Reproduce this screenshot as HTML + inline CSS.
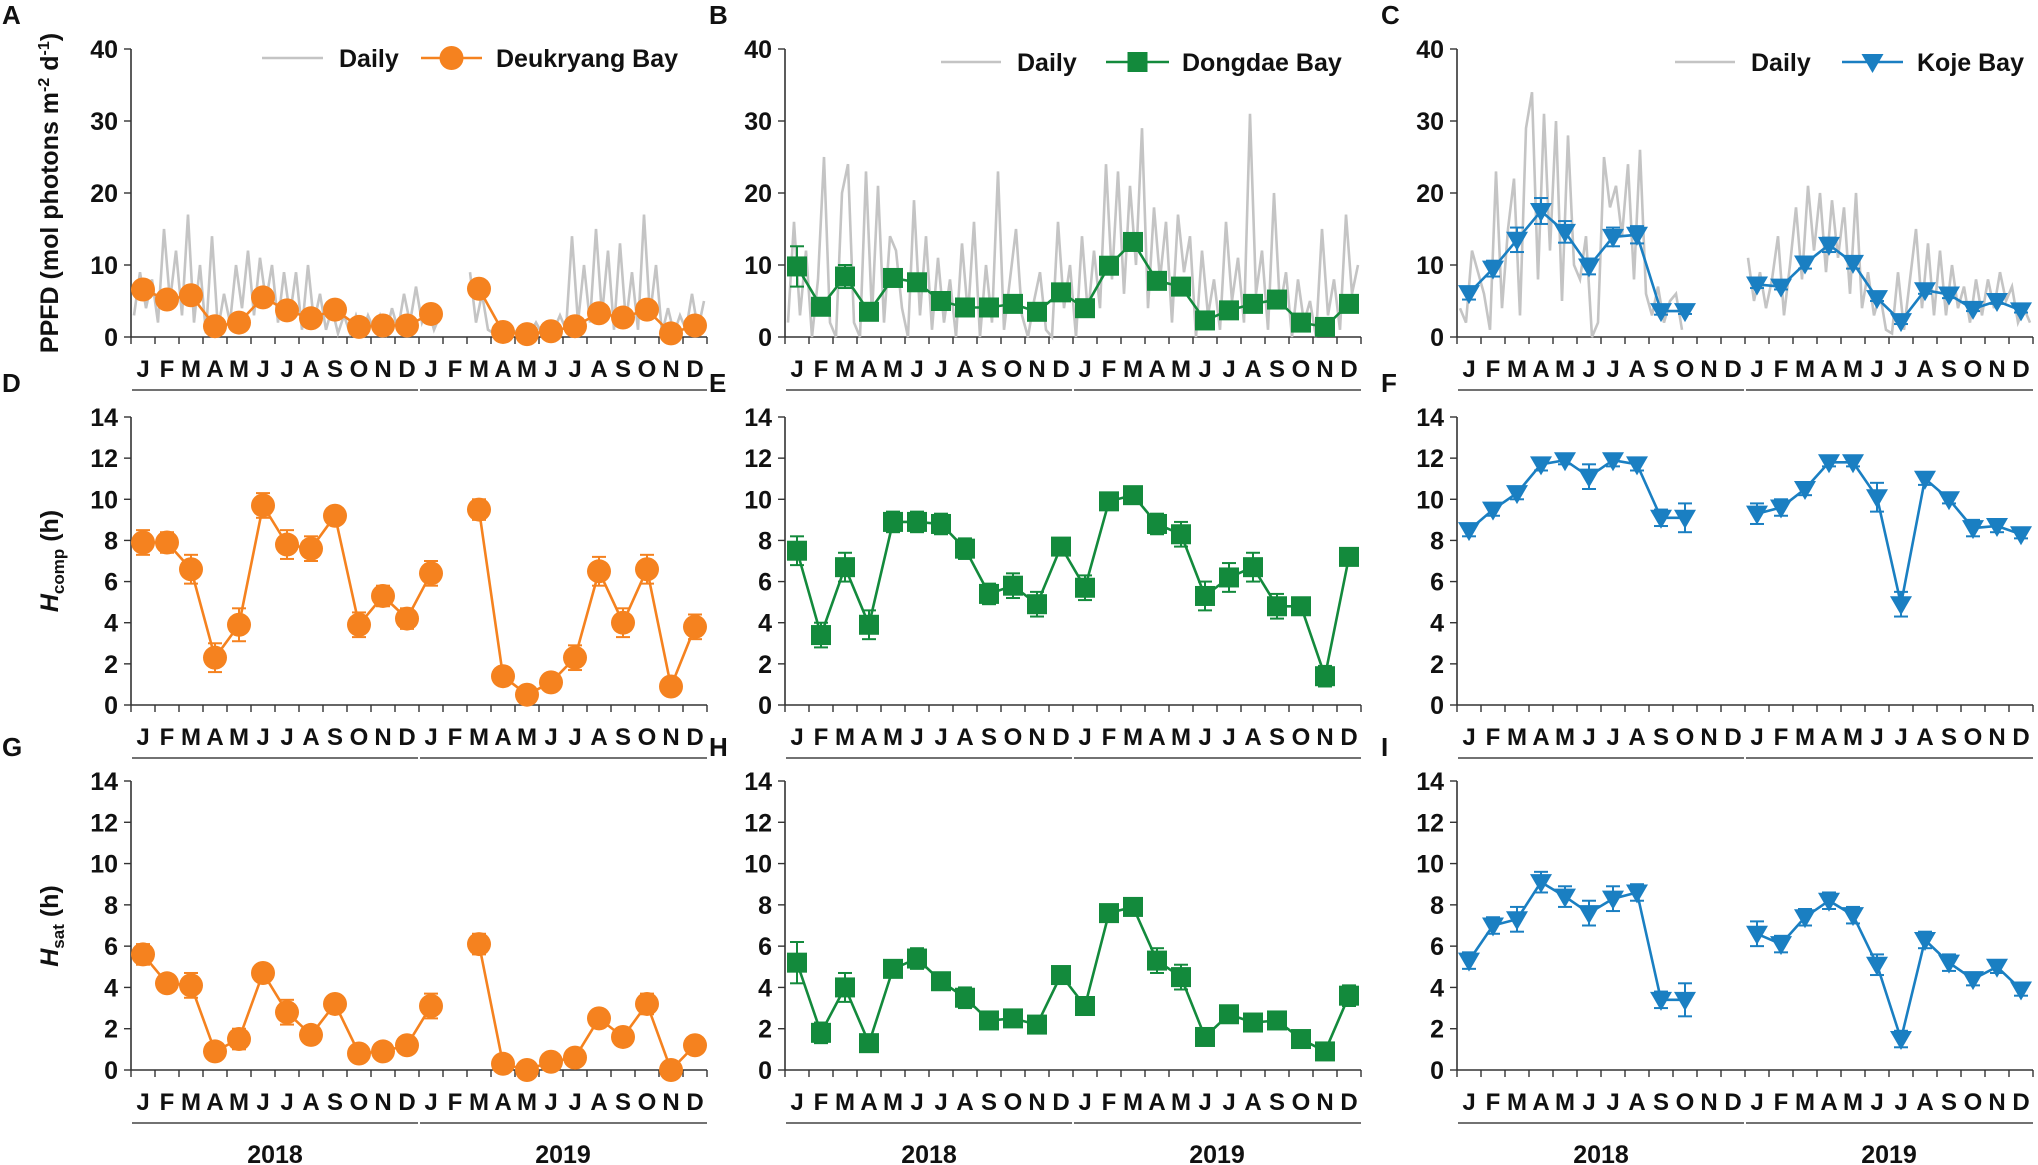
<!DOCTYPE html>
<html><head><meta charset="utf-8">
<style>
html,body{margin:0;padding:0;background:#fff;}
svg{display:block;font-family:"Liberation Sans",Arial,sans-serif;}
text{font-weight:bold;fill:#111;}
</style></head>
<body>
<svg id="fig" width="2038" height="1165" viewBox="0 0 2038 1165" xmlns="http://www.w3.org/2000/svg"></svg>
<script>
// ---------- data ----------
const months = ["J","F","M","A","M","J","J","A","S","O","N","D","J","F","M","A","M","J","J","A","S","O","N","D"];
const years = ["2018","2019"];
const ppfdTicks = [0,10,20,30,40];
const hourTicks = [0,2,4,6,8,10,12,14];

// monthly PPFD
const ppfdDeukryang = [6.6,5.2,5.8,1.5,2.0,5.5,3.7,2.6,3.8,1.4,1.6,1.6, 3.2,null,6.7,0.7,0.4,0.8,1.5,3.3,2.7,3.8,0.5,1.6];
const ppfdDongdae = [9.8,4.2,8.4,3.5,8.2,7.6,5.0,4.1,4.1,4.6,3.5,6.2, 4.0,9.9,13.2,7.8,7.0,2.3,3.7,4.6,5.2,2.0,1.4,4.6];
const ppfdKoje = [6.1,9.5,13.5,17.5,14.6,9.8,13.9,14.2,3.6,3.6,null,null, 7.3,7.0,10.2,12.8,10.3,5.4,2.2,6.5,5.9,3.9,5.0,3.7];
const ppfdErrDongdae = [2.8,1.2,1.6,0.8,1.0,0.8,0.8,0.6,0.6,0.6,0.5,0.8, 0.6,0.8,1.0,0.8,0.7,0.5,0.5,0.6,0.6,0.4,0.3,0.6];
const ppfdErrKoje = [0.9,1.1,1.7,1.8,1.5,1.1,1.3,1.2,0.5,0.4,null,null, 0.5,0.4,0.7,1.0,0.8,0.4,0.4,0.5,0.5,0.3,0.4,0.3];

// Hcomp
const hcompDeukryang = [7.9,7.9,6.6,2.3,3.9,9.7,7.8,7.6,9.2,3.9,5.3,4.2, 6.4,null,9.5,1.4,0.5,1.1,2.3,6.5,4.0,6.6,0.9,3.8];
const hcompDongdae = [7.5,3.4,6.7,3.9,8.9,8.9,8.8,7.6,5.4,5.8,4.9,7.7, 5.7,9.9,10.2,8.8,8.3,5.3,6.2,6.7,4.8,4.8,1.4,7.2];
const hcompKoje = [8.5,9.5,10.3,11.7,11.9,11.1,11.9,11.7,9.1,9.1,null,null, 9.3,9.6,10.5,11.8,11.8,10.1,4.9,11.0,10.0,8.6,8.7,8.3];
const hcompErrDeukryang = [0.6,0.5,0.7,0.7,0.8,0.6,0.7,0.6,0.3,0.6,0.5,0.5, 0.6,null,0.5,0.4,0.3,0.4,0.6,0.7,0.7,0.7,0.4,0.6];
const hcompErrDongdae = [0.7,0.6,0.7,0.7,0.5,0.5,0.5,0.5,0.5,0.6,0.6,0.4, 0.6,0.3,0.3,0.5,0.6,0.7,0.7,0.7,0.6,0.4,0.5,0.3];
const hcompErrKoje = [0.3,0.3,0.3,0.3,0.2,0.6,0.3,0.3,0.4,0.7,null,null, 0.5,0.4,0.3,0.2,0.2,0.7,0.6,0.3,0.2,0.4,0.3,0.2];

// Hsat
const hsatDeukryang = [5.6,4.2,4.1,0.9,1.5,4.7,2.8,1.7,3.2,0.8,0.9,1.2, 3.1,null,6.1,0.3,0.0,0.4,0.6,2.5,1.6,3.2,0.0,1.2];
const hsatDongdae = [5.2,1.8,4.0,1.3,4.9,5.4,4.3,3.5,2.4,2.5,2.2,4.6, 3.1,7.6,7.9,5.3,4.5,1.6,2.7,2.3,2.4,1.5,0.9,3.6];
const hsatKoje = [5.3,7.0,7.3,9.1,8.4,7.6,8.3,8.6,3.4,3.4,null,null, 6.6,6.1,7.4,8.2,7.5,5.1,1.5,6.3,5.2,4.4,5.0,3.9];
const hsatErrDeukryang = [0.5,0.4,0.6,0.2,0.5,0.4,0.6,0.3,0.4,0.2,0.2,0.3, 0.6,null,0.5,0.2,0.1,0.2,0.2,0.4,0.4,0.5,0.1,0.2];
const hsatErrDongdae = [1.0,0.5,0.7,0.4,0.4,0.5,0.4,0.5,0.3,0.3,0.4,0.3, 0.4,0.2,0.2,0.6,0.6,0.3,0.4,0.3,0.3,0.3,0.2,0.5];
const hsatErrKoje = [0.4,0.4,0.6,0.5,0.5,0.6,0.6,0.4,0.4,0.8,null,null, 0.6,0.4,0.4,0.4,0.4,0.5,0.4,0.4,0.4,0.3,0.3,0.3];

// daily PPFD (4 samples per month)
const dailyDeukryang = [3,9,4,8, 2,15,5,12, 3,17,2,10, 0.5,14,1,6, 2,10,4,12, 3,11,5,10, 2,9,3,9, 1,10,2,6, 1,4,0.5,3, 0.5,3,0.5,3, 1,3,0.5,4, 1,6,2,7,
  2,4,1,3, null,null,null,null, 9,2,6,1, 0.5,2,0.5,1, 0.5,1,0.5,2, 0.5,2,1,3, 1,14,2,10, 2,15,3,12, 1,13,2,9, 1,17,3,10, 0.5,4,0.5,3, 1,6,1,5];
const dailyDongdae = [2,16,3,12, 0,8,25,2, 0,20,24,2, 0,23,3,21, 2,14,12,4, 0,19,3,14, 1,11,2,8, 0,13,3,16, 0,10,2,23, 1,8,15,3, 0,5,9,1, 0,16,4,10,
  0,14,3,12, 4,24,8,23, 6,21,10,29, 4,18,8,16, 2,17,9,14, 0,12,3,8, 1,16,5,11, 2,31,6,12, 1,20,4,9, 0,8,2,5, 0,15,3,8, 1,17,6,10];
const dailyKoje = [4,2,12,9, 6,1,23,4, 15,22,3,29, 34,8,31,12, 30,5,28,10, 8,14,0,2, 25,18,21,14, 24,8,26,6, 3,7,2,5, 6,1,null,null, null,null,null,null, null,null,null,null,
  11,5,9,4, 8,14,3,10, 18,8,21,12, 20,9,19,11, 18,6,20,4, 9,3,6,1, 0.5,9,1,8, 15,4,13,3, 12,3,10,4, 7,2,8,3, 8,4,9,5, 7,2,4,2];

// ---------- layout ----------
const NS = "http://www.w3.org/2000/svg";
const svg = document.getElementById("fig");
const colX0 = [131, 785, 1457];
const plotW = 576;
const rowTop = [49, 417, 781];
const rowBot = [337, 705, 1070];
const rowMax = [40, 14, 14];
const colors = ["#F5821F", "#138A3C", "#1A7FC2"];
const marker = ["circle", "square", "triangle"];
const bayNames = ["Deukryang Bay", "Dongdae Bay", "Koje Bay"];
const letters = [["A","B","C"],["D","E","F"],["G","H","I"]];

function el(tag, attrs, parent) {
  const e = document.createElementNS(NS, tag);
  for (const k in attrs) e.setAttribute(k, attrs[k]);
  (parent || svg).appendChild(e);
  return e;
}
function xScale(col, i) { return colX0[col] + (i + 0.5) * plotW / 24; }
function xDaily(col, j) { return colX0[col] + (j + 0.5) * plotW / 96; }
function yScale(row, v) { return rowBot[row] - v / rowMax[row] * (rowBot[row] - rowTop[row]); }

function drawMarker(g, type, x, y, color, s) {
  let m;
  if (type === "circle") m = el("circle", {cx: x, cy: y, r: s, fill: color}, g);
  else if (type === "square") m = el("rect", {x: x - s, y: y - s, width: 2 * s, height: 2 * s, fill: color}, g);
  else m = el("polygon", {points: `${x - s - 1},${y - s + 2} ${x + s + 1},${y - s + 2} ${x},${y + s + 1}`, fill: color}, g);
  
  
}

function drawAxes(row, col) {
  const g = el("g", {});
  
  
  const x0 = colX0[col], x1 = x0 + plotW, yb = rowBot[row], yt = rowTop[row];
  el("line", {x1: x0, y1: yt, x2: x0, y2: yb, stroke: "#333", "stroke-width": 1.6}, g);
  el("line", {x1: x0, y1: yb, x2: x1, y2: yb, stroke: "#333", "stroke-width": 1.6}, g);
  const ticks = row === 0 ? ppfdTicks : hourTicks;
  ticks.forEach(t => {
    const y = yScale(row, t);
    el("line", {x1: x0 - 7, y1: y, x2: x0, y2: y, stroke: "#333", "stroke-width": 1.4}, g);
    const tx = el("text", {x: x0 - 13, y: y + 9, "text-anchor": "end", "font-size": 25, "font-family": "'Liberation Sans Narrow','Liberation Sans',sans-serif"}, g);
    tx.textContent = t;
    
    
  });
  for (let i = 0; i <= 24; i++) {
    const x = x0 + i * plotW / 24;
    el("line", {x1: x, y1: yb, x2: x, y2: yb + 7, stroke: "#333", "stroke-width": 1.4}, g);
  }
  const ly = yb + 40;
  months.forEach((m, i) => {
    const tx = el("text", {x: xScale(col, i), y: ly, "text-anchor": "middle", "font-size": 24}, g);
    tx.textContent = m;
    
    
  });
  const uy = yb + 53;
  el("line", {x1: x0 + 1, y1: uy, x2: x0 + plotW / 2 - 1, y2: uy, stroke: "#444", "stroke-width": 1.6}, g);
  el("line", {x1: x0 + plotW / 2 + 1, y1: uy, x2: x1, y2: uy, stroke: "#444", "stroke-width": 1.6}, g);
  if (row === 2) {
    years.forEach((yr, k) => {
      const tx = el("text", {x: x0 + plotW / 4 + k * plotW / 2, y: uy + 40, "text-anchor": "middle", "font-size": 25}, g);
      tx.textContent = yr;
      
      
    });
  }
  const lt = el("text", {x: col === 0 ? 2 : x0 - 76, y: yt - 25, "font-size": 26}, g);
  lt.textContent = letters[row][col];
  
  
}

function drawDaily(col, arr) {
  let d = "", pen = false;
  arr.forEach((v, j) => {
    if (v === null) { pen = false; return; }
    d += (pen ? "L" : "M") + xDaily(col, j).toFixed(1) + "," + yScale(0, v).toFixed(1);
    pen = true;
  });
  const p = el("path", {d: d, fill: "none", stroke: "#C4C4C4", "stroke-width": 2.6});
  
  
}

function drawSeries(row, col, vals, errs) {
  const g = el("g", {});
  
  
  const c = colors[col];
  let d = "", pen = false;
  vals.forEach((v, i) => {
    if (v === null) { pen = false; return; }
    d += (pen ? "L" : "M") + xScale(col, i).toFixed(1) + "," + yScale(row, v).toFixed(1);
    pen = true;
  });
  el("path", {d: d, fill: "none", stroke: c, "stroke-width": 2.6}, g);
  vals.forEach((v, i) => {
    if (v === null) return;
    const x = xScale(col, i);
    const e = errs ? errs[i] : null;
    if (e) {
      const ya = yScale(row, v + e), yb = yScale(row, Math.max(0, v - e));
      el("line", {x1: x, y1: ya, x2: x, y2: yb, stroke: c, "stroke-width": 2}, g);
      el("line", {x1: x - 7, y1: ya, x2: x + 7, y2: ya, stroke: c, "stroke-width": 2}, g);
      el("line", {x1: x - 7, y1: yb, x2: x + 7, y2: yb, stroke: c, "stroke-width": 2}, g);
    }
    drawMarker(g, marker[col], x, yScale(row, v), c, col === 0 ? 12 : 10);
  });
}

// legends
const legendPos = [
  {g0: 262, g1: 323, daily: 339, l0: 421, l1: 482, name: 496, y: 58},
  {g0: 941, g1: 1001, daily: 1017, l0: 1106, l1: 1169, name: 1182, y: 62},
  {g0: 1675, g1: 1735, daily: 1751, l0: 1842, l1: 1903, name: 1917, y: 62}
];
function drawLegend(col) {
  const L = legendPos[col];
  const g = el("g", {});
  
  
  el("line", {x1: L.g0, y1: L.y, x2: L.g1, y2: L.y, stroke: "#C4C4C4", "stroke-width": 2.5}, g);
  const t1 = el("text", {x: L.daily, y: L.y + 9, "font-size": 25}, g);
  t1.textContent = "Daily";
  
  
  el("line", {x1: L.l0, y1: L.y, x2: L.l1, y2: L.y, stroke: colors[col], "stroke-width": 2.6}, g);
  drawMarker(g, marker[col], (L.l0 + L.l1) / 2, L.y, colors[col], col === 0 ? 12 : 10);
  const t2 = el("text", {x: L.name, y: L.y + 9, "font-size": 25}, g);
  t2.textContent = bayNames[col];
  
  
}

for (let r = 0; r < 3; r++) for (let c = 0; c < 3; c++) drawAxes(r, c);
drawDaily(0, dailyDeukryang);
drawDaily(1, dailyDongdae);
drawDaily(2, dailyKoje);
drawSeries(0, 0, ppfdDeukryang, null);
drawSeries(0, 1, ppfdDongdae, ppfdErrDongdae);
drawSeries(0, 2, ppfdKoje, ppfdErrKoje);
drawSeries(1, 0, hcompDeukryang, hcompErrDeukryang);
drawSeries(1, 1, hcompDongdae, hcompErrDongdae);
drawSeries(1, 2, hcompKoje, hcompErrKoje);
drawSeries(2, 0, hsatDeukryang, hsatErrDeukryang);
drawSeries(2, 1, hsatDongdae, hsatErrDongdae);
drawSeries(2, 2, hsatKoje, hsatErrKoje);
drawLegend(0); drawLegend(1); drawLegend(2);

// y-axis titles
function yTitle(cx, cy, html, name) {
  const t = el("text", {x: 0, y: 0, "text-anchor": "middle", "font-size": 25, transform: `translate(${cx},${cy}) rotate(-90)`});
  t.innerHTML = html;
  
  
}
yTitle(58, 193, 'PPFD (mol photons m<tspan dy="-9" font-size="16">-2</tspan><tspan dy="9"> d</tspan><tspan dy="-9" font-size="16">-1</tspan><tspan dy="9">)</tspan>', 'y-axis-title-ppfd');
yTitle(58, 561, '<tspan font-style="italic">H</tspan><tspan dy="6" font-size="17">comp</tspan><tspan dy="-6"> (h)</tspan>', 'y-axis-title-hcomp');
yTitle(58, 926, '<tspan font-style="italic">H</tspan><tspan dy="6" font-size="17">sat</tspan><tspan dy="-6"> (h)</tspan>', 'y-axis-title-hsat');
</script>
</body></html>
